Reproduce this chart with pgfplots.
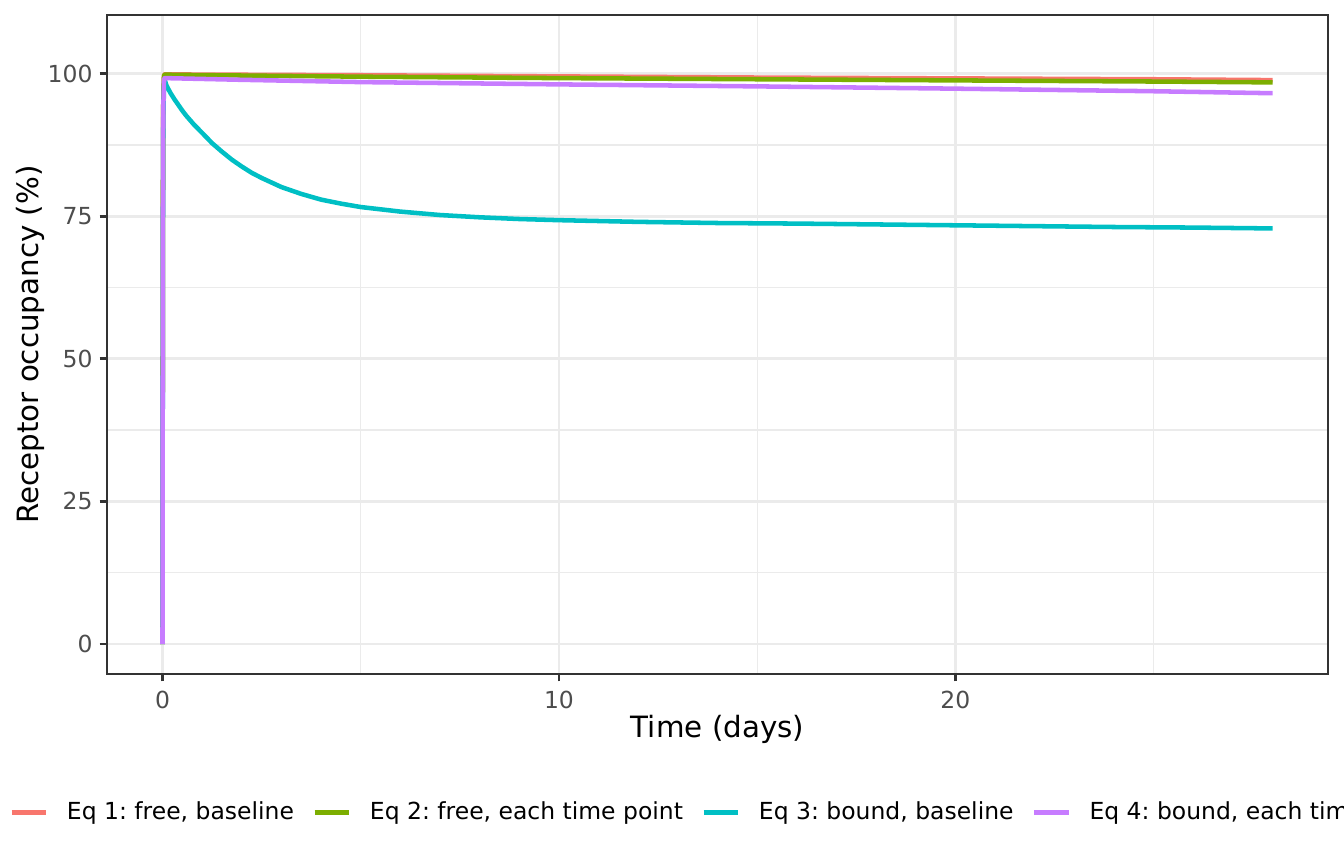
\documentclass[border=0pt]{standalone}
\usepackage{fontspec}
\setmainfont{DejaVu Sans}
\usepackage{pgfplots}
\pgfplotsset{compat=1.18}

\definecolor{grey92}{HTML}{EBEBEB}
\definecolor{grey20}{HTML}{333333}
\definecolor{grey30}{HTML}{4D4D4D}
\definecolor{eqone}{HTML}{F8766D}
\definecolor{eqtwo}{HTML}{7CAE00}
\definecolor{eqthree}{HTML}{00BFC4}
\definecolor{eqfour}{HTML}{C77CFF}

\newcommand{\ticksize}{\fontsize{8.8}{10}\selectfont}
\newcommand{\labsize}{\fontsize{11}{13}\selectfont}
\frenchspacing

\begin{document}
\begin{tikzpicture}
\begin{axis}[
  scale only axis,
  width=457.9pt,
  height=247.1pt,
  xmin=-1.4, xmax=29.4,
  ymin=-5.25, ymax=110.25,
  xtick={0,10,20},
  minor xtick={5,15,25},
  ytick={0,25,50,75,100},
  minor ytick={12.5,37.5,62.5,87.5},
  grid=both,
  major grid style={color=grey92, line width=1pt},
  minor grid style={color=grey92, line width=0.5pt},
  tick align=outside,
  tick pos=left,
  major tick length=2.75pt,
  minor tick length=0pt,
  major tick style={color=grey20, line width=1pt},
  axis line style={color=grey20, line width=0.75pt},
  /pgf/number format/assume math mode=true,
  xticklabel style={font=\ticksize, text=grey30, inner sep=0pt, anchor=north, yshift=-3.6pt},
  yticklabel style={font=\ticksize, text=grey30, inner sep=0pt, anchor=east, xshift=-2.5pt},
  xlabel={Time (days)},
  ylabel={Receptor occupancy (\%)},
  xlabel style={font=\labsize, inner sep=0pt, at={([yshift=-24pt]axis description cs:0.5,0)}, anchor=base},
  ylabel style={font=\labsize, inner sep=0pt, at={([xshift=-25.5pt]axis description cs:0,0.5)}, anchor=base, rotate=0},
  legend columns=4,
  legend image code/.code={\draw[#1] (0pt,0pt) -- (13pt,0pt);},
  legend style={at={([xshift=-36.8pt,yshift=-51.9pt]axis description cs:0,0)}, anchor=west,
    draw=none, fill=none, inner sep=0pt, font=\ticksize,
    nodes={inner sep=0pt}, column sep=6.9pt},
  every axis plot/.append style={line width=1.7pt, line join=round},
]

% Eq 1: free, baseline
\addplot[color=eqone] table {
t ro
0 0
0.01 75
0.02 96
0.04 99.8
0.06 99.85
1 99.82
5 99.7
10 99.5
15 99.3
20 99.15
25 99.0
28 98.85
};
\addlegendentry{Eq 1: free, baseline}

% Eq 2: free, each time point
\addplot[color=eqtwo] table {
t ro
0 0
0.01 75
0.02 96
0.04 99.7
0.06 99.8
1 99.72
5 99.45
10 99.2
15 99.0
20 98.8
25 98.6
28 98.45
};
\addlegendentry{Eq 2: free, each time point}

% Eq 3: bound, baseline
\addplot[color=eqthree] table {
t ro
0 0
0.01 70
0.02 92
0.04 98.5
0.06 98.8
0.1 97.9
0.2 96.6
0.3 95.5
0.4 94.5
0.5 93.5
0.6 92.6
0.8 91.0
1 89.6
1.25 87.8
1.5 86.3
1.75 84.9
2 83.7
2.25 82.6
2.5 81.7
2.75 80.9
3 80.1
3.5 78.9
4 77.9
4.5 77.2
5 76.6
5.5 76.2
6 75.8
7 75.2
8 74.8
9 74.5
10 74.3
12 74.0
14 73.8
16 73.7
18 73.55
20 73.4
22 73.25
24 73.1
26 73.0
28 72.85
};
\addlegendentry{Eq 3: bound, baseline}

% Eq 4: bound, each time point
\addplot[color=eqfour] table {
t ro
0 0
0.01 70
0.02 94
0.04 99.1
0.06 99.2
2 98.9
5 98.5
10 98.1
15 97.75
20 97.35
25 96.9
28 96.55
};
\addlegendentry{Eq 4: bound, each time point}

\end{axis}
\pgfresetboundingbox
\useasboundingbox (-40.125pt,-71.25pt) rectangle (463.875pt,252.75pt);
\end{tikzpicture}
\end{document}
